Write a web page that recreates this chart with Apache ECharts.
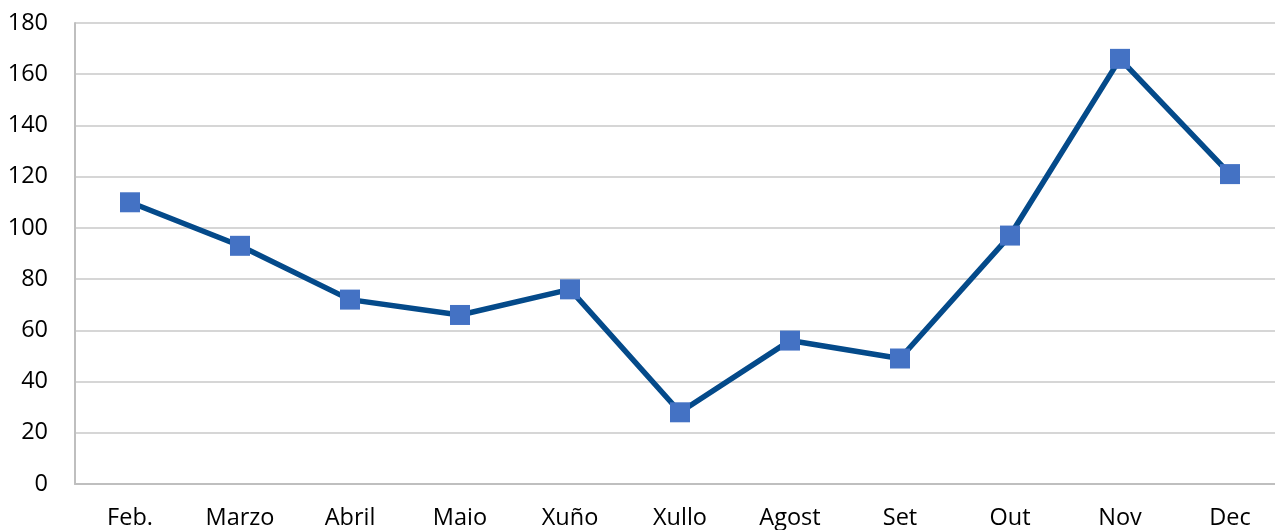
<!DOCTYPE html>
<html>
<head>
<meta charset="utf-8">
<script src="https://cdn.jsdelivr.net/npm/echarts@6/dist/echarts.min.js"></script>
<style>
  html, body { margin: 0; padding: 0; background: #fff; overflow: hidden; }
  /* a gráfica orixinal corta a última banda: o div é algo máis largo que a xanela */
  #chart { width: 1285px; height: 530px; }
</style>
</head>
<body>
<div id="chart"></div>
<script>
// meses e valores
const months = ['Feb.', 'Marzo', 'Abril', 'Maio', 'Xuño', 'Xullo', 'Agost', 'Set', 'Out', 'Nov', 'Dec'];
const values = [110, 93, 72, 66, 76, 28, 56, 49, 97, 166, 121];

const chart = echarts.init(document.getElementById('chart'));

const option = {
    animation: false,
    textStyle: {fontFamily: 'Open Sans, Liberation Sans, sans-serif'},
    grid: {
        left: 75,
        top: 23,
        right: 0,
        bottom: 45,
        containLabel: false
    },
    xAxis: {
        type: 'category',
        data: months,
        boundaryGap: true,
        axisLine: {lineStyle: {color: '#bfbfbf', width: 2}},
        axisTick: {show: false},
        axisLabel: {color: '#000', fontSize: 23.5, margin: 22}
    },
    yAxis: {
        type: 'value',
        min: 0,
        max: 180,
        interval: 20,
        axisLine: {show: true, lineStyle: {color: '#bfbfbf', width: 2}},
        axisTick: {show: false},
        axisLabel: {color: '#000', fontSize: 23.5, margin: 27},
        splitLine: {lineStyle: {color: '#c8c8c8', width: 1.5}}
    },
    series: [{
        type: 'line',
        data: values,
        symbol: 'rect',
        symbolSize: 20,
        lineStyle: {color: '#044a8a', width: 5.5},
        itemStyle: {color: '#4472c4'}
    }]
};

chart.setOption(option);
</script>
</body>
</html>
